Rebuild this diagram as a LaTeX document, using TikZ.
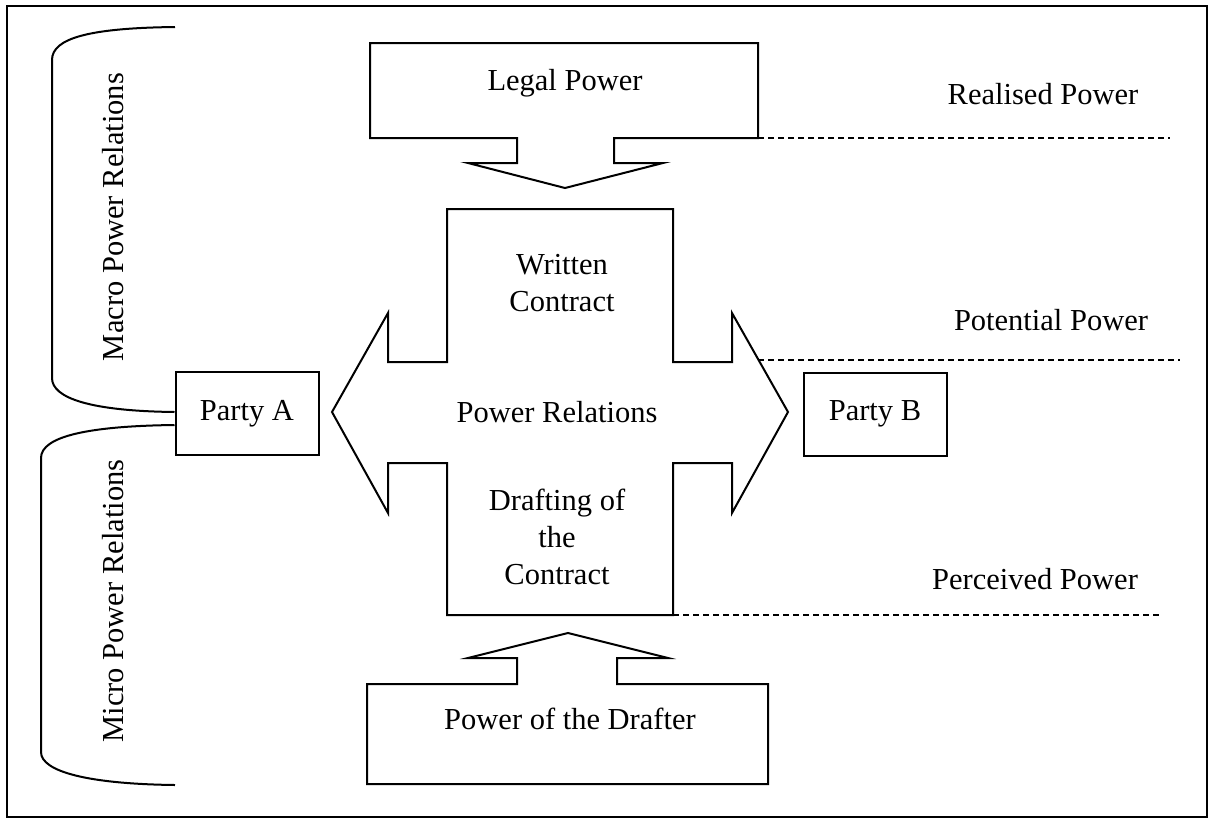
\documentclass[tikz,border=0pt]{standalone}
\usepackage{fontspec}
\setmainfont{Liberation Serif}
\usetikzlibrary{positioning}

\begin{document}
\begin{tikzpicture}[
  x=1pt, y=-1pt,
  line width=2pt,
  every node/.style={font=\fontsize{30.5}{37}\selectfont, inner sep=0pt},
  party/.style={draw, minimum width=143pt, minimum height=83pt},
  caption/.style={align=center},
  outline/.style={draw, line join=miter},
  powerline/.style={dash pattern=on 6pt off 4pt, line width=1.6pt},
  brace/.style={line width=2pt}
]
\useasboundingbox (0,0) rectangle (1212,820);
\draw[line width=1.8pt] (7,6) rectangle (1207,817);

\draw[outline] (370,43) -- (758,43) -- (758,138) -- (614,138) -- (614,163) -- (663,163) -- (565,188)
  -- (468,163) -- (517,163) -- (517,138) -- (370,138) -- cycle;
\draw[outline] (447,209) -- (673,209) -- (673,362) -- (732,362) -- (732,313) -- (788,412) -- (732,513)
  -- (732,463) -- (673,463) -- (673,615) -- (447,615) -- (447,463) -- (388,463) -- (388,513)
  -- (332,412) -- (388,313) -- (388,362) -- (447,362) -- cycle;
\draw[outline] (367,684) -- (517,684) -- (517,658) -- (468,658) -- (568,633) -- (668,658) -- (617,658)
  -- (617,684) -- (768,684) -- (768,784) -- (367,784) -- cycle;

\node[caption] (legal) at (565,83) {Legal Power};
\node[caption] (written) at (562,283) {Written\\Contract};
\node[caption] (relations) at (557,412) {Power Relations};
\node[caption] (drafting) at (557,537) {Drafting of\\the\\Contract};
\node[caption] (drafter) at (570,719) {Power of the Drafter};

\node[party] (partyA) at (247,413.5) {Party A};
\node[party] (partyB) at (875,414) {Party B};

\node[rotate=90] (macro) at (113,217) {Macro Power Relations};
\node[rotate=90] (micro) at (113,601) {Micro Power Relations};

\node (realised) at (1043,94) {Realised Power};
\node (potential) at (1051,320) {Potential Power};
\node (perceived) at (1035,579) {Perceived Power};

\coordinate (realisedstart) at (758,138);
\coordinate (realisedend) at (1170,138);
\coordinate (potentialstart) at (758,360);
\coordinate (potentialend) at (1180,360);
\coordinate (perceivedstart) at (673,615);
\coordinate (perceivedend) at (1162,615);
\coordinate (macrotop) at (175,27);
\coordinate (microbottom) at (175,785);

\draw[powerline] (realisedstart) -- (realisedend);
\draw[powerline] (potentialstart) -- (potentialend);
\draw[powerline] (perceivedstart) -- (perceivedend);

\draw[brace] (macrotop) .. controls (90,28) and (52,38) .. (52,60) -- (52,378)
  .. controls (52,398) and (90,411) .. ([yshift=1.5pt]partyA.west);
\draw[brace] ([yshift=-11.5pt]partyA.west) .. controls (90,426) and (41,436) .. (41,458) -- (41,752)
  .. controls (41,772) and (90,784) .. (microbottom);
\end{tikzpicture}
\end{document}
